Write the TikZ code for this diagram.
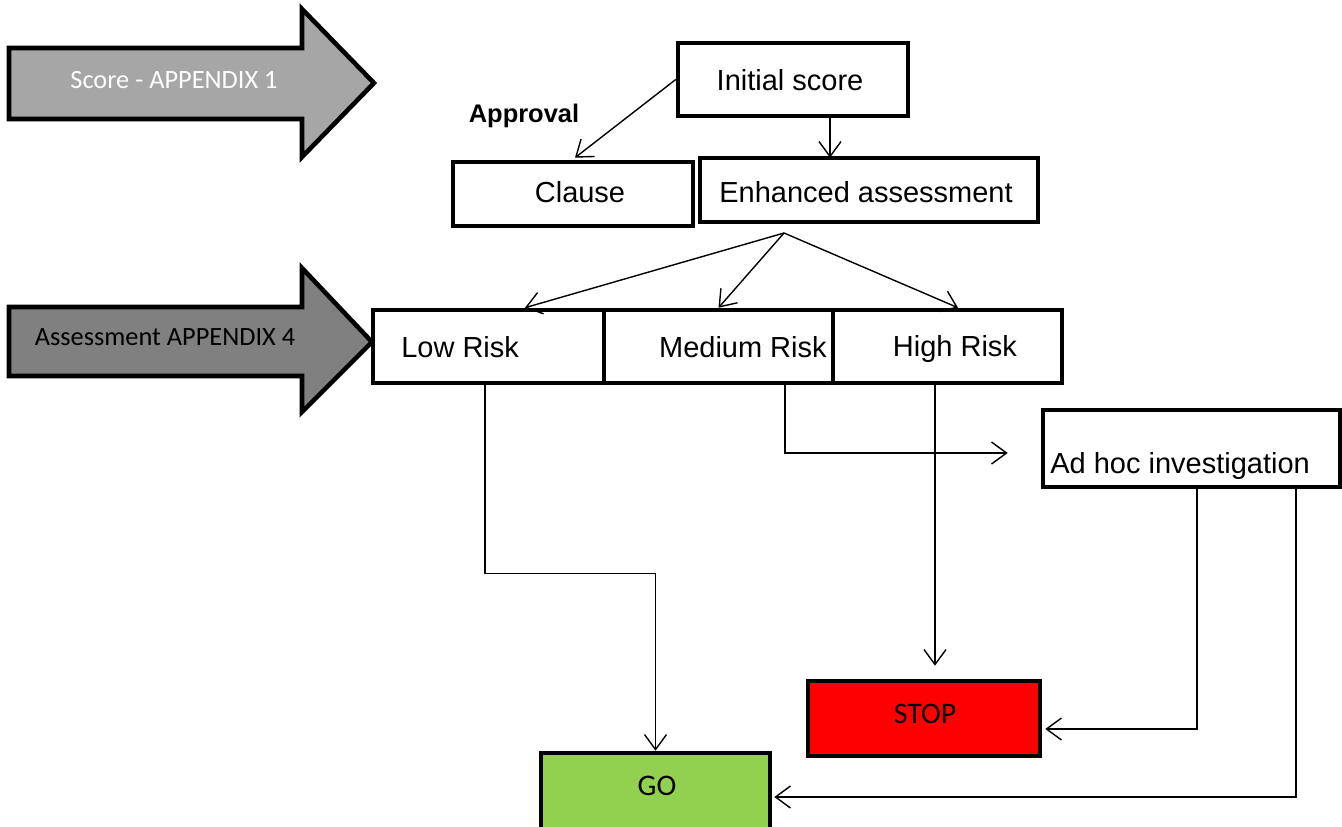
\documentclass[tikz,border=0pt]{standalone}
\usepackage{fontspec}
\setmainfont{Liberation Sans}
\newfontfamily\calib{Carlito}
\usetikzlibrary{arrows.meta,calc}
\definecolor{arrowA}{HTML}{A6A6A6}
\definecolor{arrowB}{HTML}{808080}
\definecolor{goGreen}{HTML}{92D050}
\definecolor{stopRed}{HTML}{FF0000}
\tikzset{
  box/.style={draw, line width=2.6pt, fill=white, rectangle, inner sep=0pt},
  bsize/.style 2 args={minimum width=#1*0.02cm, minimum height=#2*0.02cm},
  boxtext/.style={inner sep=0pt, font=\fontsize{16.5}{20}\selectfont},
  calibtext/.style={inner sep=0pt, font=\calib\fontsize{17}{20}\selectfont},
  bigarrow/.style={draw, line width=2.6pt, line join=miter},
  conn/.style={line width=0.8pt, -{Straight Barb[length=3mm,width=4.4mm,line width=0.8pt]}},
  plain/.style={line width=0.8pt}
}
\begin{document}
\begin{tikzpicture}[x=0.02cm,y=-0.02cm]
\useasboundingbox (0,0) rectangle (1342,826);

% big arrows
\draw[bigarrow, fill=arrowA] (9,48) -- (302,48) -- (302,9) -- (374,83) -- (302,157) -- (302,119) -- (9,119) -- cycle;
\node[calibtext, text=white, font=\calib\fontsize{15}{18}\selectfont] (scoreTxt) at (174,80) {Score - APPENDIX 1};
\draw[bigarrow, fill=arrowB] (9,307) -- (302,307) -- (302,268) -- (372,342) -- (302,412) -- (302,376) -- (9,376) -- cycle;
\node[calibtext, font=\calib\fontsize{15}{18}\selectfont] (assessTxt) at (165,337) {Assessment APPENDIX 4};

% boxes
\node[box, bsize={230}{73}] (init) at (793,79.5) {};
\node[boxtext] (initT) at (790,80) {Initial score};
\node[box, bsize={240}{64}] (clause) at (573,194) {};
\node[boxtext] (clauseT) at (580,192) {Clause};
\node[box, bsize={338}{64}] (enh) at (869,190) {};
\node[boxtext] (enhT) at (866,192) {Enhanced assessment};
\node[font=\bfseries\fontsize{14.5}{17}\selectfont, inner sep=0pt] (appr) at (524,116) {Approval};

\node[box, bsize={231}{73}] (low) at (488.5,346.5) {};
\node[boxtext, anchor=west] (lowT) at (401,347) {Low Risk};
\node[box, bsize={229}{73}] (med) at (718.5,346.5) {};
\node[boxtext, anchor=east] (medT) at (827,347) {Medium Risk};
\node[box, bsize={229}{73}] (high) at (947.5,346.5) {};
\node[boxtext] (highT) at (955,349) {High Risk};

\node[box, bsize={297}{77}] (adhoc) at (1191.5,448.5) {};
\node[boxtext, anchor=west] (adhocT) at (1050,466) {Ad hoc investigation};

\node[box, fill=stopRed, bsize={232}{75}] (stop) at (924,718.5) {};
\node[calibtext] (stopT) at (925,714) {STOP};
\node[box, fill=goGreen, bsize={229}{77}] (go) at (655.5,791.5) {};
\node[calibtext] (goT) at (657,786) {GO};

% connectors
\draw[conn] (init.west) -- ($(clause.north)+(2,-2)$);
\draw[conn] ($(init.south)+(37,0)$) -- ($(enh.north)+(-39,2)$);
\coordinate (split) at (784,233);
\draw[conn] (split) -- ($(low.north)+(36.5,0)$);
\draw[conn] (split) -- (med.north);
\draw[conn] (split) -- ($(high.north)+(10.5,0)$);

\draw[conn] ($(low.south)+(-3.5,0)$) -- ++(0,188) -| (go.north);
\coordinate (adin) at ($(adhoc.west)+(-33,4.5)$);
\draw[conn] ($(med.south)+(66.5,0)$) |- (adin);
\draw[conn] ($(high.south)+(-12.5,0)$) -- ($(stop.north)+(11,-13)$);
\draw[conn] ($(adhoc.south)+(5.5,0)$) |- ($(stop.east)+(3,10.5)$);
\draw[conn] ($(adhoc.south)+(104.5,0)$) |- ($(go.east)+(2,5.5)$);
\end{tikzpicture}
\end{document}
